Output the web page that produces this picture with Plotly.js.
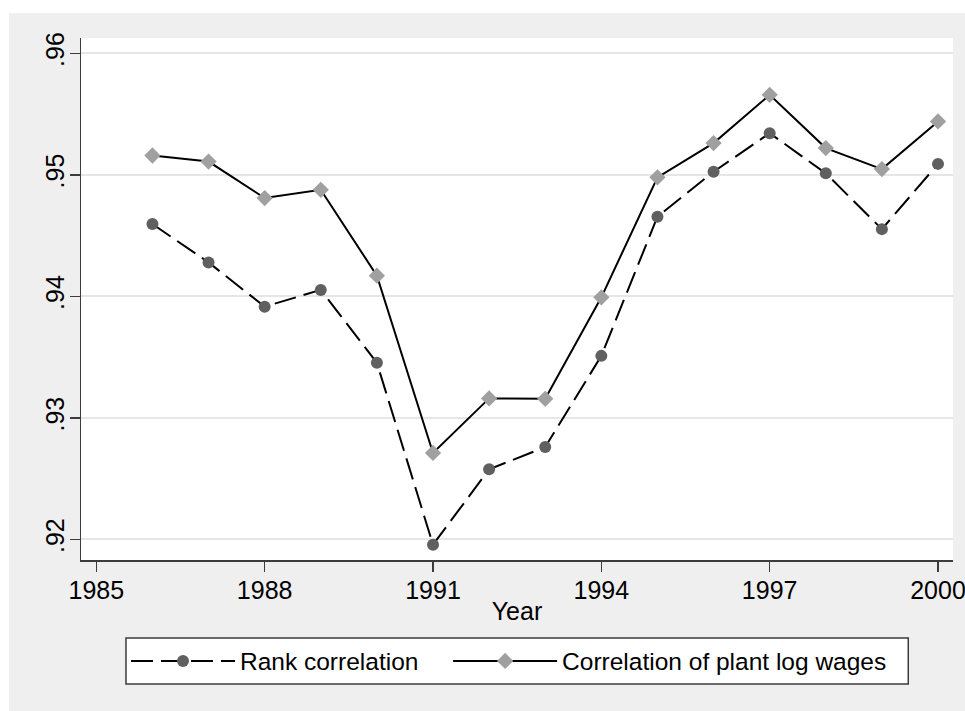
<!DOCTYPE html>
<html>
<head>
<meta charset="utf-8">
<script src="https://cdn.plot.ly/plotly-3.0.1.min.js"></script>
<style>
  html, body { margin: 0; padding: 0; background: #ffffff; }
  #chart { position: absolute; left: 9px; top: 13px; width: 956px; height: 698px; }
</style>
</head>
<body>
<div id="chart"></div>
<script>
// ---- Data ----
var years = [1986, 1987, 1988, 1989, 1990, 1991, 1992, 1993, 1994, 1995, 1996, 1997, 1998, 1999, 2000];
var rankCorrelation = [0.94595, 0.94279, 0.93915, 0.94053, 0.93453, 0.91956, 0.92576, 0.92760, 0.93510, 0.94655, 0.95025, 0.95343, 0.95012, 0.94553, 0.95090];
var plantLogWageCorrelation = [0.95159, 0.95109, 0.94809, 0.94877, 0.94170, 0.92711, 0.93160, 0.93157, 0.93992, 0.94979, 0.95261, 0.95658, 0.95220, 0.95047, 0.95439];
var seriesNames = ["Rank correlation", "Correlation of plant log wages"];
var xTickVals = [1985, 1988, 1991, 1994, 1997, 2000];
var xTickText = ["1985", "1988", "1991", "1994", "1997", "2000"];
var yTickVals = [0.92, 0.93, 0.94, 0.95, 0.96];
var yTickText = [".92", ".93", ".94", ".95", ".96"];
var xAxisTitle = "Year";

var fontFamily = "Liberation Sans, Arial, Helvetica, sans-serif";
var axisColor = "#3c3c3c";
var fs = 25;

var traces = [
  {
    x: years, y: rankCorrelation, name: seriesNames[0],
    type: "scatter", mode: "lines+markers", legend: "legend",
    line: { color: "#000000", width: 2, dash: "22px,8px" },
    marker: { symbol: "circle", size: 12, color: "#606060" }
  },
  {
    x: years, y: plantLogWageCorrelation, name: seriesNames[1],
    type: "scatter", mode: "lines+markers", legend: "legend2",
    line: { color: "#000000", width: 2 },
    marker: { symbol: "diamond", size: 12.5, color: "#a0a0a0" }
  }
];

var legendCommon = {
  orientation: "h",
  yanchor: "middle", y: -0.1935,
  xanchor: "left",
  bgcolor: "rgba(0,0,0,0)",
  borderwidth: 0,
  font: { family: fontFamily, size: 24.5, color: "#000000" },
  itemwidth: 104
};

var layout = {
  width: 956, height: 698,
  paper_bgcolor: "#efefef",
  plot_bgcolor: "#ffffff",
  margin: { l: 72, r: 12, t: 25, b: 151, pad: 0 },
  font: { family: fontFamily, size: fs, color: "#000000" },
  showlegend: true,
  xaxis: {
    range: [1984.727, 2000.267],
    tickmode: "array", tickvals: xTickVals, ticktext: xTickText,
    showgrid: false, zeroline: false,
    showline: true, linecolor: axisColor, linewidth: 1.5,
    ticks: "outside", ticklen: 10, tickwidth: 1.5, tickcolor: axisColor,
    tickfont: { family: fontFamily, size: fs, color: "#000000" },
    ticklabeloverflow: "allow",
    ticklabelstandoff: -3,
    automargin: false,
    title: { text: xAxisTitle, font: { family: fontFamily, size: fs, color: "#000000" }, standoff: 0 }
  },
  yaxis: {
    range: [0.91830, 0.96126],
    tickmode: "array", tickvals: yTickVals, ticktext: yTickText,
    tickangle: -90,
    ticklabelstandoff: -4,
    showgrid: true, gridcolor: "#e6e6e6", gridwidth: 2,
    zeroline: false,
    showline: true, linecolor: axisColor, linewidth: 1.5,
    ticks: "outside", ticklen: 10, tickwidth: 1.5, tickcolor: axisColor,
    tickfont: { family: fontFamily, size: fs, color: "#000000" },
    automargin: false
  },
  legend: Object.assign({}, legendCommon, { x: 0.0516 }),
  legend2: Object.assign({}, legendCommon, { x: 0.4210 }),
  shapes: [
    {
      type: "rect", xref: "paper", yref: "paper", layer: "above",
      x0: 0.0516, x1: 0.9487, y0: -0.1494, y1: -0.2375,
      fillcolor: "#ffffff", line: { color: "#3c3c3c", width: 1.5 }
    }
  ]
};

Plotly.newPlot("chart", traces, layout, { displayModeBar: false, staticPlot: true });
</script>
</body>
</html>
